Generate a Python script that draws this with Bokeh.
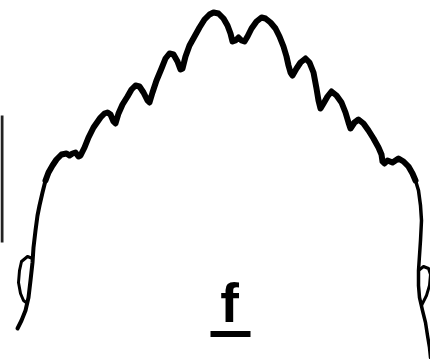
from bokeh.plotting import figure
from bokeh.models import Range1d
from bokeh.core.properties import value
from bokeh.embed import file_html
from bokeh.resources import INLINE

# Traced profile (x to the right, y measured downward from the top)
curve_x = [17, 21, 25, 28, 30, 32, 33, 35, 37, 39, 42, 45, 48, 52, 56, 61, 66, 69, 72, 75,
           78, 80, 84, 88, 93, 100, 104, 107, 110, 113, 115, 118, 122, 127, 131, 135, 139, 143,
           147, 149, 152, 156, 161, 165, 169, 173, 177, 180, 182, 185, 189, 194, 199, 204, 209,
           213, 218, 223, 227, 230, 232, 235, 238, 241, 244, 247, 251, 256, 261, 265, 270, 275,
           279, 283, 286, 288, 290, 292, 296, 300, 305, 309, 313, 316, 318, 320, 323, 327, 331,
           336, 341, 345, 348, 350, 354, 358, 363, 368, 373, 378, 381, 382, 384, 387, 392, 398,
           403, 408, 412, 415, 418, 420, 421, 420, 419, 418, 418, 419, 422, 425, 427, 429, 430]
curve_y = [328, 320, 310, 297, 280, 262, 247, 230, 215, 205, 192, 180, 172, 165, 159, 154, 153,
           155, 153, 152, 156, 155, 147, 137, 127, 117, 113, 112, 114, 121, 123, 113, 104, 96, 89,
           85, 86, 92, 100, 102, 92, 80, 68, 58, 53, 54, 61, 69, 68, 56, 45, 36, 27, 19, 14, 12,
           13, 18, 25, 33, 41, 40, 37, 40, 41, 36, 28, 21, 17, 18, 22, 28, 36, 46, 56, 65, 72, 75,
           68, 62, 58, 62, 72, 88, 100, 108, 103, 96, 91, 95, 102, 112, 122, 128, 122, 119, 123,
           130, 138, 147, 154, 161, 163, 160, 162, 158, 161, 166, 173, 180, 190, 205, 220, 240,
           255, 270, 285, 297, 310, 322, 335, 347, 357]

# Small side loops near the feet of the profile
loop_left_x = [32, 27, 21, 19, 18, 20, 23, 27]
loop_left_y = [258, 256, 261, 270, 282, 293, 300, 303]
loop_right_x = [418, 423, 428, 430, 429, 426, 421]
loop_right_y = [270, 266, 268, 274, 285, 295, 305]

# Vertical scale bar on the left edge
bar_x = [1.5, 1.5]
bar_y = [115, 242]

label = "f"

p = figure(width=430, height=359, output_backend="svg", toolbar_location=None,
           x_range=Range1d(0, 430), y_range=Range1d(359, 0),
           min_border=0, min_border_left=0, min_border_right=0,
           min_border_top=0, min_border_bottom=0)
p.axis.visible = False
p.grid.visible = False
p.outline_line_color = None
p.background_fill_color = "white"
p.border_fill_color = "white"

# Legs are drawn a little thinner than the upper crest
left_end = curve_y.index(180)
right_start = len(curve_x) - 1 - curve_y[::-1].index(180)
p.line(curve_x[:left_end + 1], curve_y[:left_end + 1], line_color="black", line_width=4,
       line_cap="round", line_join="round")
p.line(curve_x[left_end:right_start + 1], curve_y[left_end:right_start + 1], line_color="black",
       line_width=6, line_cap="round", line_join="round")
p.line(curve_x[right_start:], curve_y[right_start:], line_color="black", line_width=3.5,
       line_cap="round", line_join="round")

p.line(loop_left_x, loop_left_y, line_color="black", line_width=3, line_join="round")
p.line(loop_right_x, loop_right_y, line_color="black", line_width=3, line_join="round")

p.line(bar_x, bar_y, line_color="#222222", line_width=3)

p.text(x=[229], y=[270], text=[label], text_font=value("Liberation Sans"),
       text_font_style="bold", text_font_size="56px", text_align="center",
       text_baseline="top", text_color="black")
p.line([210, 250], [333.5, 333.5], line_color="black", line_width=6)

open("out.html", "w").write(file_html(p, INLINE))
